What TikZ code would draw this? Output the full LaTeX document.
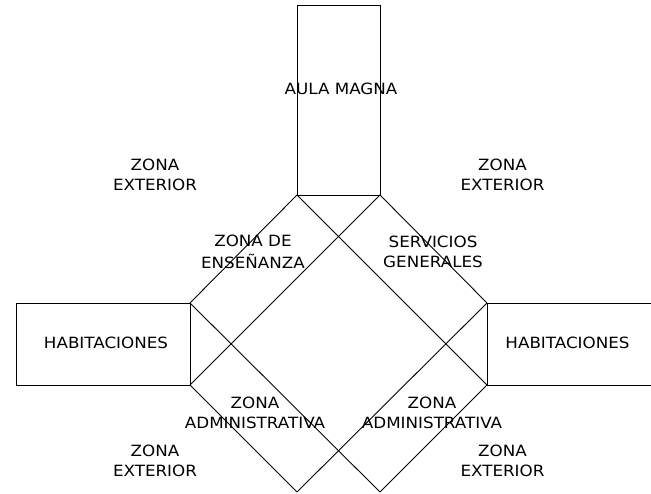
\documentclass[tikz,border=0pt]{standalone}
\usepackage{fontspec}
\setmainfont[FakeStretch=1.08]{DejaVu Sans}
\begin{document}
\begin{tikzpicture}[x=1pt,y=-1pt,
  every node/.style={font=\fontsize{15.5}{20}\selectfont},
  room/.style={draw=black, line width=0.9pt, inner sep=0pt, outer sep=0pt, rectangle},
  wall/.style={draw=black, line width=0.9pt},
  lbl/.style={align=center, inner sep=0pt, text=black}]
\useasboundingbox (0,0) rectangle (651,494);
\clip (0,0) rectangle (651,494);
% rooms
\node[room, minimum width=83pt, minimum height=190pt] (aula) at (338.5,100) {};
\node[room, minimum width=174pt, minimum height=82pt] (habl) at (103,344) {};
\node[room, minimum width=175pt, minimum height=82pt] (habr) at (574.5,344) {};
% diamond vertices
\coordinate (a) at (aula.south west);
\coordinate (b) at (aula.south east);
\coordinate (c) at (habl.north east);
\coordinate (d) at (habl.south east);
\coordinate (e) at (habr.north west);
\coordinate (f) at (habr.south west);
\coordinate (g) at (297,492);
\coordinate (h) at (380,492);
\draw[wall] (a) -- (c);
\draw[wall] (b) -- (e);
\draw[wall] (a) -- (f);
\draw[wall] (b) -- (d);
\draw[wall] (c) -- (h);
\draw[wall] (d) -- (g);
\draw[wall] (e) -- (g);
\draw[wall] (f) -- (h);
% labels
\node[lbl] (tAula) at (341,89) {AULA MAGNA};
\node[lbl] (tHabL) at (106,343) {HABITACIONES};
\node[lbl] (tHabR) at (567.5,343) {HABITACIONES};
\node[lbl] (tExtTL) at (155,175) {ZONA\\EXTERIOR};
\node[lbl] (tExtTR) at (502.5,175) {ZONA\\EXTERIOR};
\node[lbl] (tExtBL) at (155,461) {ZONA\\EXTERIOR};
\node[lbl] (tExtBR) at (502.5,461) {ZONA\\EXTERIOR};
\node[lbl] (tEns) at (253,252) {ZONA DE\\[2pt]ENSEÑANZA};
\node[lbl] (tServ) at (433,252) {SERVICIOS\\GENERALES};
\node[lbl] (tAdmL) at (255,413) {ZONA\\ADMINISTRATIVA};
\node[lbl] (tAdmR) at (432,413) {ZONA\\ADMINISTRATIVA};
\end{tikzpicture}
\end{document}
